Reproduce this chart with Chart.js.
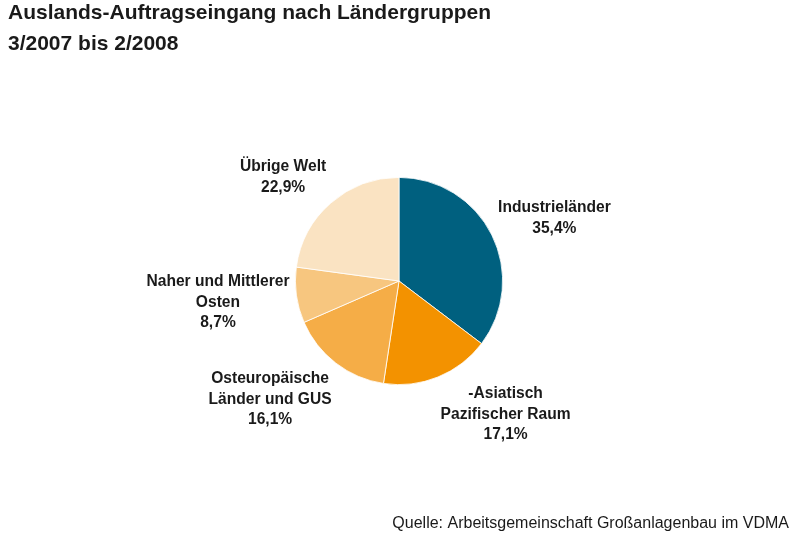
<!DOCTYPE html>
<html>
<head>
<meta charset="utf-8">
<script src="https://cdn.jsdelivr.net/npm/chart.js@4/dist/chart.umd.min.js"></script>
<style>
  html, body { margin: 0; padding: 0; background: #fff; }
  #wrap { width: 800px; height: 538px; position: relative; }
</style>
</head>
<body>
<div id="wrap"><canvas id="pie"></canvas></div>
<script>
// values (percent)
const categories = [
    ['Industrieländer'],
    ['-Asiatisch', 'Pazifischer Raum'],
    ['Osteuropäische', 'Länder und GUS'],
    ['Naher und Mittlerer', 'Osten'],
    ['Übrige Welt']
];
const shares = [35.4, 17.1, 16.1, 8.7, 22.9];
const sliceColors = ['#00607f', '#f39200', '#f5ad47', '#f7c67f', '#fae3c2'];

const titleLines = ['Auslands-Auftragseingang nach Ländergruppen', '3/2007 bis 2/2008'];
const sourceText = 'Quelle: Arbeitsgemeinschaft Großanlagenbau im VDMA';

function fmt(v) {
    return v.toFixed(1).replace('.', ',') + '%';
}

const labelFont = 'bold 15.6px "Liberation Sans", Arial, sans-serif';
const lineH = 20.5;

// outside labels, placed next to each slice like the spreadsheet original
const textPlugin = {
    id: 'texts',
    afterDraw(chart) {
        const ctx = chart.ctx;
        ctx.save();
        ctx.fillStyle = '#1a1a1a';

        // title
        ctx.font = 'bold 21px "Liberation Sans", Arial, sans-serif';
        ctx.textAlign = 'left';
        ctx.textBaseline = 'alphabetic';
        ctx.fillText(titleLines[0], 8, 19);
        ctx.fillText(titleLines[1], 8, 50);

        // source
        ctx.font = '16px "Liberation Sans", Arial, sans-serif';
        ctx.textAlign = 'right';
        ctx.fillText(sourceText, 789, 528);

        // slice labels
        ctx.font = labelFont;
        ctx.textAlign = 'center';
        ctx.textBaseline = 'middle';
        const meta = chart.getDatasetMeta(0);
        meta.data.forEach((arc, i) => {
            const lines = categories[i].concat([fmt(shares[i])]);
            const mid = (arc.startAngle + arc.endAngle) / 2;
            const c = Math.cos(mid), s = Math.sin(mid);
            const r = arc.outerRadius + 7;
            const ax = arc.x + c * r, ay = arc.y + s * r;
            const w = Math.max(...lines.map(l => ctx.measureText(l).width));
            const h = lines.length * lineH;
            const kx = Math.max(-1, Math.min(1, c * 2.7));
            const ky = Math.max(-1, Math.min(1, s * 1.5));
            const cx = ax + kx * w / 2;
            const cy = ay + ky * h / 2;
            lines.forEach((l, j) => {
                ctx.fillText(l, cx, cy - h / 2 + lineH * (j + 0.5));
            });
        });
        ctx.restore();
    }
};

new Chart(document.getElementById('pie'), {
    type: 'pie',
    data: {
        labels: categories.map(c => c.join(' ')),
        datasets: [{
            data: shares,
            backgroundColor: sliceColors,
            borderColor: '#ffffff',
            borderWidth: 0.8
        }]
    },
    options: {
        responsive: true,
        maintainAspectRatio: false,
        animation: false,
        layout: { padding: { left: 295, right: 297, top: 177, bottom: 153 } },
        plugins: {
            legend: { display: false },
            tooltip: { enabled: false }
        }
    },
    plugins: [textPlugin]
});
</script>
</body>
</html>
